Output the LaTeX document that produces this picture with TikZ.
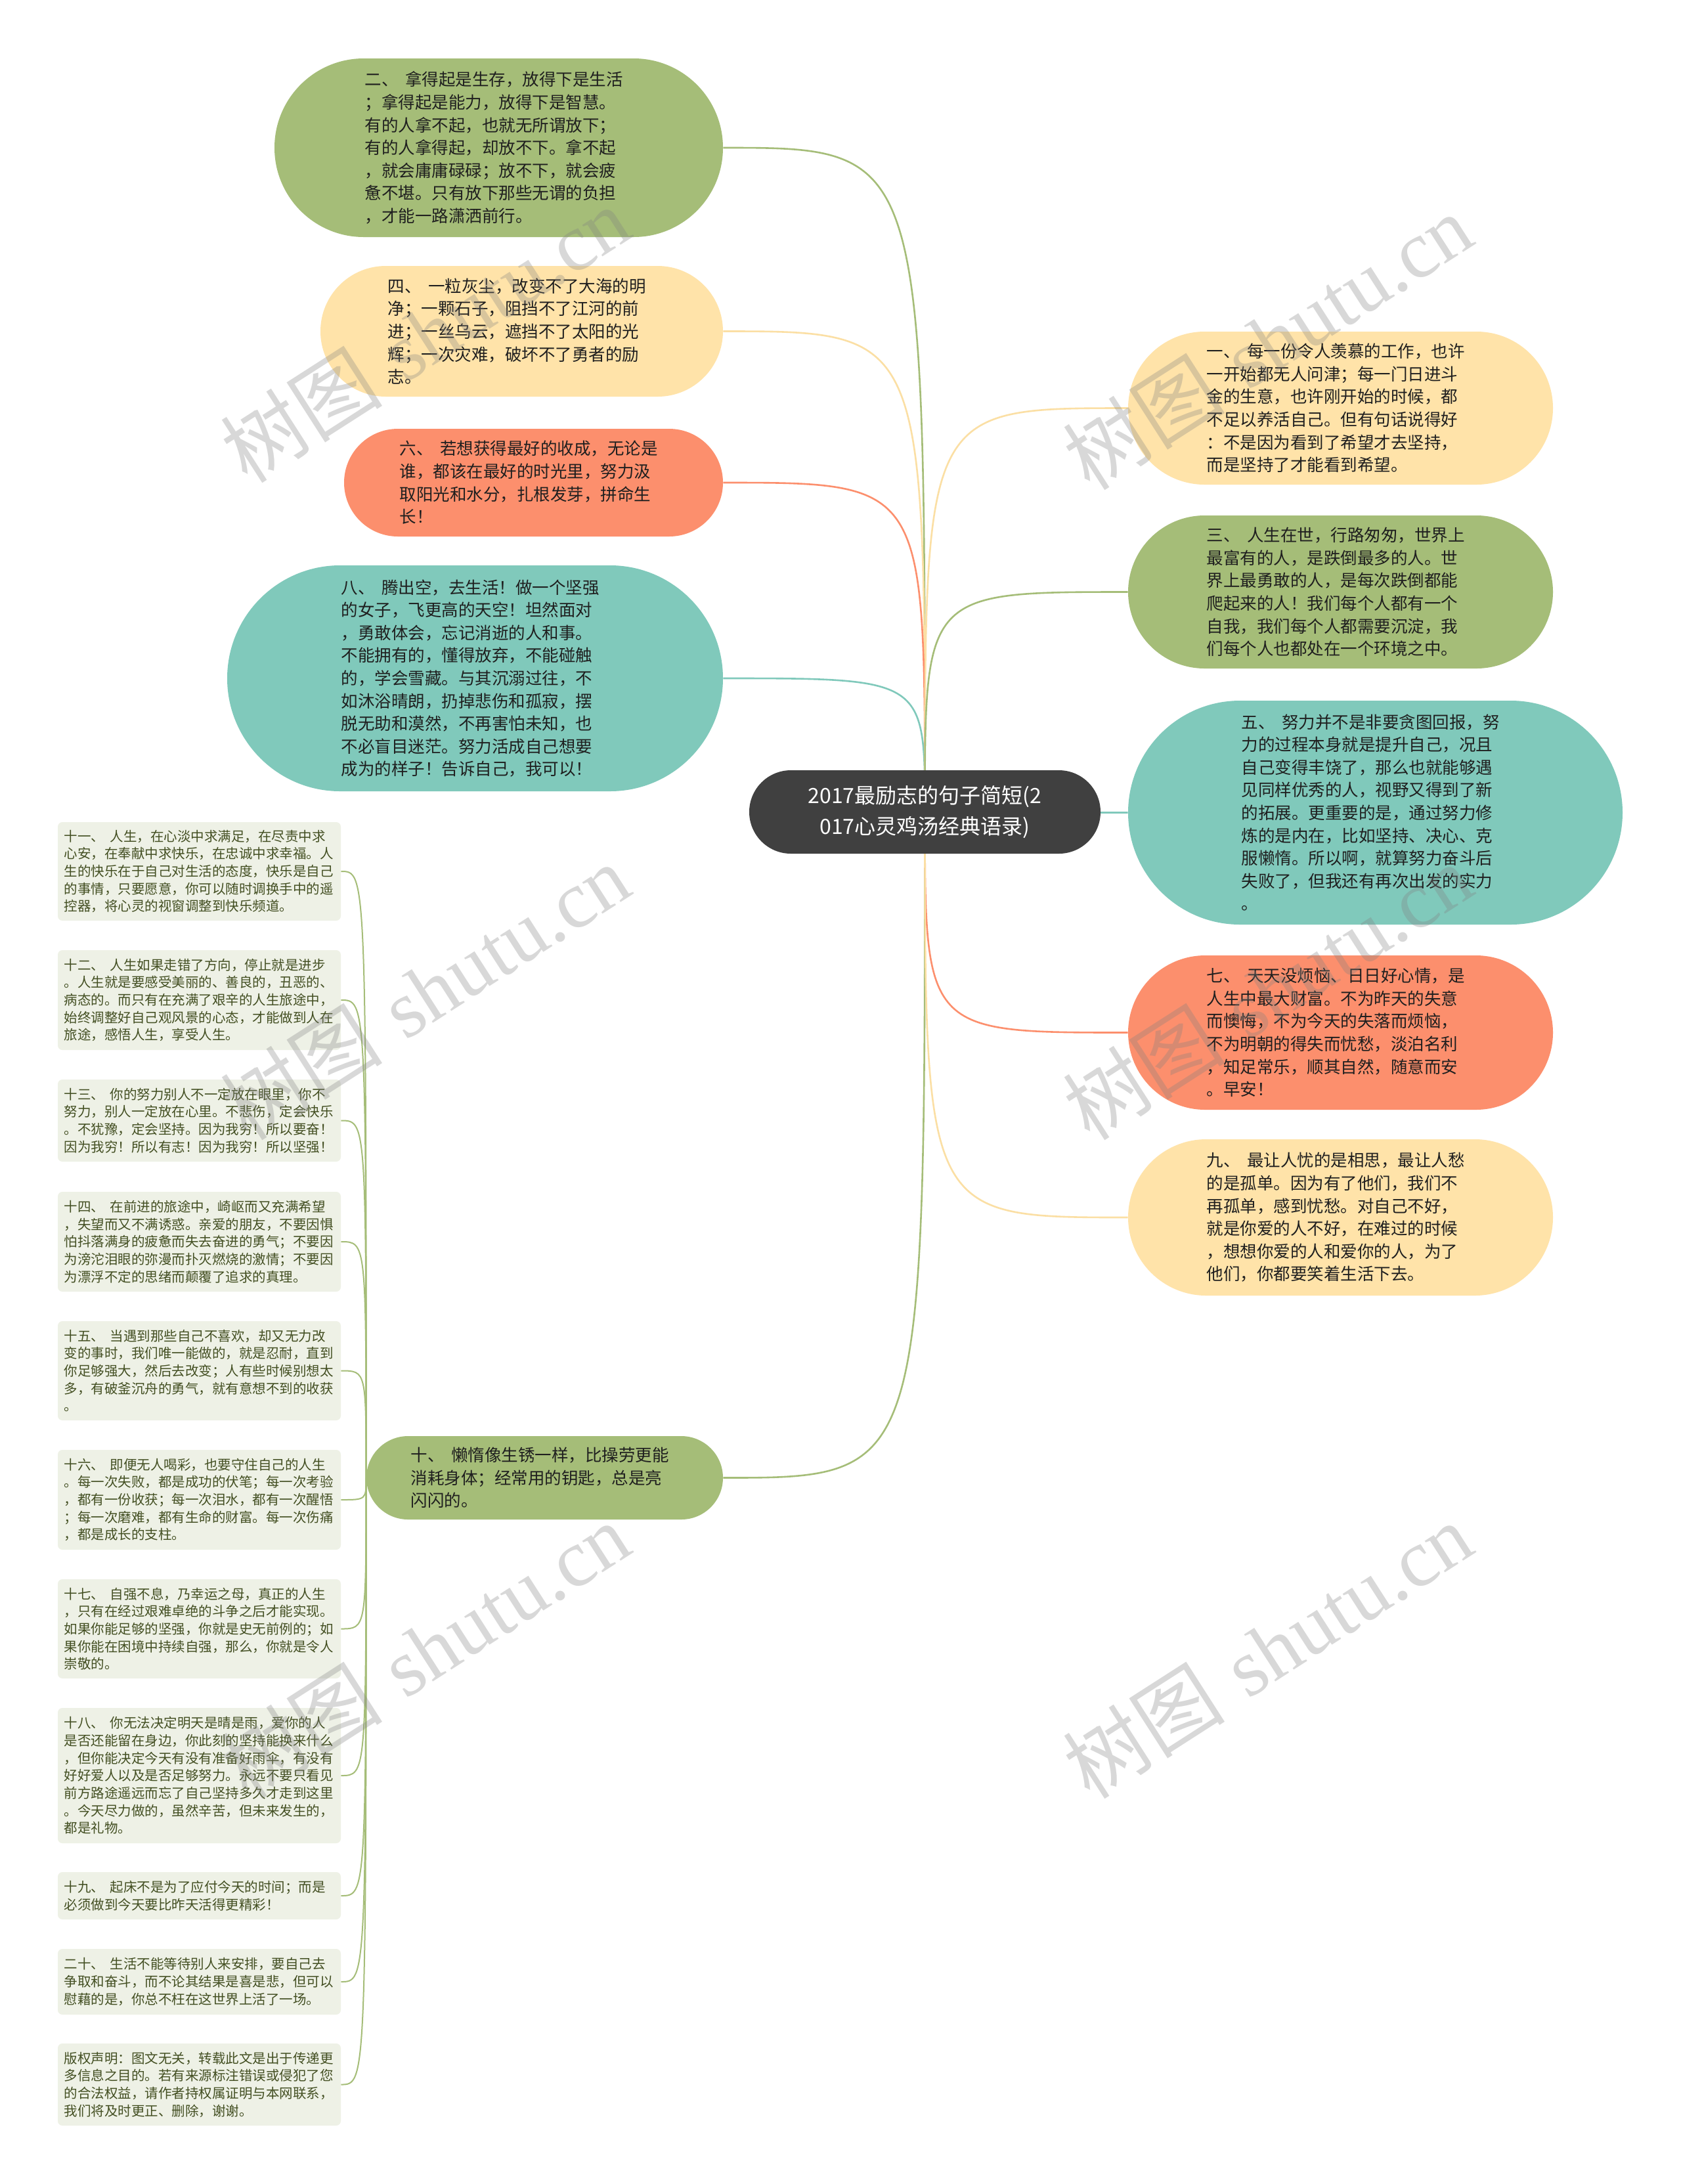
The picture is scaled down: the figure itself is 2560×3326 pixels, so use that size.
\documentclass[tikz,border=0pt]{standalone}
\usepackage{fontspec}
\setmainfont{Noto Sans CJK SC}
\newfontfamily\wmfont{Liberation Serif}
\usetikzlibrary{shapes.misc}
\pgfdeclarelayer{bg}
\pgfsetlayers{bg,main}
\definecolor{cgreen}{HTML}{A5BD78}
\definecolor{cyellow}{HTML}{FFE3A9}
\definecolor{corange}{HTML}{FC8F6D}
\definecolor{cteal}{HTML}{80C9BB}
\definecolor{croot}{HTML}{404040}
\definecolor{boxfill}{HTML}{EEF1E6}
\definecolor{boxtext}{HTML}{434F22}
\definecolor{txtdark}{HTML}{1F1F1F}
\definecolor{lyellow}{HTML}{FBDFA4}
\newcommand\dgap{\hspace{0.42em}}
\begin{document}
\begin{tikzpicture}[x=0.5pt,y=-0.5pt,
  pill/.style={shape=rounded rectangle, inner xsep=0pt, inner ysep=0pt,
    text width=204pt, align=left, text=txtdark,
    font=\fontsize{12.75pt}{17.3pt}\selectfont},
  rootnode/.style={shape=rounded rectangle, inner xsep=0pt, inner ysep=0pt,
    fill=croot, text=white, align=center,
    font=\fontsize{16pt}{23.5pt}\selectfont},
  leafbox/.style={rectangle, rounded corners=3.5pt, fill=boxfill, text=boxtext,
    inner xsep=4.75pt, inner ysep=0pt, text width=206pt, align=left,
    font=\fontsize{10.25pt}{13.35pt}\selectfont},
  link/.style={line width=1.3pt},
  leaflink/.style={line width=1pt, draw=cgreen},
  wm/.style={text=black!50, text opacity=0.3, inner sep=0pt,
    font=\wmfont\fontsize{62pt}{62pt}\selectfont}
]
\useasboundingbox (0,0) rectangle (2560,3326);

% root
\node[rootnode, minimum width=267.5pt, minimum height=63.5pt] (root) at (1408.5,1236.5)
  {2017最励志的句子简短(2\\017心灵鸡汤经典语录)};

% left main nodes
\node[pill, fill=cgreen, minimum width=341.5pt, minimum height=136pt] (n2) at (759.5,225)
  {二、\dgap 拿得起是生存，放得下是生活\\；拿得起是能力，放得下是智慧。\\有的人拿不起，也就无所谓放下；\\有的人拿得起，却放不下。拿不起\\，就会庸庸碌碌；放不下，就会疲\\惫不堪。只有放下那些无谓的负担\\，才能一路潇洒前行。};
\node[pill, fill=cyellow, minimum width=306.5pt, minimum height=99.5pt] (n4) at (794.5,504.5)
  {四、\dgap 一粒灰尘，改变不了大海的明\\净；一颗石子，阻挡不了江河的前\\进；一丝乌云，遮挡不了太阳的光\\辉；一次灾难，破坏不了勇者的励\\志。};
\node[pill, fill=corange, minimum width=288.5pt, minimum height=82pt] (n6) at (812.5,735)
  {六、\dgap 若想获得最好的收成，无论是\\谁，都该在最好的时光里，努力汲\\取阳光和水分，扎根发芽，拼命生\\长！};
\node[pill, fill=cteal, minimum width=377.5pt, minimum height=172pt] (n8) at (723.5,1033)
  {八、\dgap 腾出空，去生活！做一个坚强\\的女子，飞更高的天空！坦然面对\\，勇敢体会，忘记消逝的人和事。\\不能拥有的，懂得放弃，不能碰触\\的，学会雪藏。与其沉溺过往，不\\如沐浴晴朗，扔掉悲伤和孤寂，摆\\脱无助和漠然，不再害怕未知，也\\不必盲目迷茫。努力活成自己想要\\成为的样子！告诉自己，我可以！};
\node[pill, fill=cgreen, minimum width=271.5pt, minimum height=63.5pt] (n10) at (829.5,2250.5)
  {十、\dgap 懒惰像生锈一样，比操劳更能\\消耗身体；经常用的钥匙，总是亮\\闪闪的。};

% right main nodes
\node[pill, fill=cyellow, minimum width=323.5pt, minimum height=116.5pt] (n1) at (2041.5,621.5)
  {一、\dgap 每一份令人羡慕的工作，也许\\一开始都无人问津；每一门日进斗\\金的生意，也许刚开始的时候，都\\不足以养活自己。但有句话说得好\\：不是因为看到了希望才去坚持，\\而是坚持了才能看到希望。};
\node[pill, fill=cgreen, minimum width=323.5pt, minimum height=116.5pt] (n3) at (2041.5,901.5)
  {三、\dgap 人生在世，行路匆匆，世界上\\最富有的人，是跌倒最多的人。世\\界上最勇敢的人，是每次跌倒都能\\爬起来的人！我们每个人都有一个\\自我，我们每个人都需要沉淀，我\\们每个人也都处在一个环境之中。};
\node[pill, fill=cteal, minimum width=376.5pt, minimum height=170.5pt] (n5) at (2094.5,1237.5)
  {五、\dgap 努力并不是非要贪图回报，努\\力的过程本身就是提升自己，况且\\自己变得丰饶了，那么也就能够遇\\见同样优秀的人，视野又得到了新\\的拓展。更重要的是，通过努力修\\炼的是内在，比如坚持、决心、克\\服懒惰。所以啊，就算努力奋斗后\\失败了，但我还有再次出发的实力\\。};
\node[pill, fill=corange, minimum width=323.5pt, minimum height=117.5pt] (n7) at (2041.5,1572.5)
  {七、\dgap 天天没烦恼、日日好心情，是\\人生中最大财富。不为昨天的失意\\而懊悔，不为今天的失落而烦恼，\\不为明朝的得失而忧愁，淡泊名利\\，知足常乐，顺其自然，随意而安\\。早安！};
\node[pill, fill=cyellow, minimum width=323.5pt, minimum height=119pt] (n9) at (2041.5,1854)
  {九、\dgap 最让人忧的是相思，最让人愁\\的是孤单。因为有了他们，我们不\\再孤单，感到忧愁。对自己不好，\\就是你爱的人不好，在难过的时候\\，想想你爱的人和爱你的人，为了\\他们，你都要笑着生活下去。};

% left column boxes
\node[leafbox, minimum height=75pt] (b11) at (303.5,1327)
  {十一、\dgap 人生，在心淡中求满足，在尽责中求\\心安，在奉献中求快乐，在忠诚中求幸福。人\\生的快乐在于自己对生活的态度，快乐是自己\\的事情，只要愿意，你可以随时调换手中的遥\\控器，将心灵的视窗调整到快乐频道。};
\node[leafbox, minimum height=76pt] (b12) at (303.5,1523)
  {十二、\dgap 人生如果走错了方向，停止就是进步\\。人生就是要感受美丽的、善良的，丑恶的、\\病态的。而只有在充满了艰辛的人生旅途中，\\始终调整好自己观风景的心态，才能做到人在\\旅途，感悟人生，享受人生。};
\node[leafbox, minimum height=62.5pt] (b13) at (303.5,1706.5)
  {十三、\dgap 你的努力别人不一定放在眼里，你不\\努力，别人一定放在心里。不悲伤，定会快乐\\。不犹豫，定会坚持。因为我穷！所以要奋！\\因为我穷！所以有志！因为我穷！所以坚强！};
\node[leafbox, minimum height=76pt] (b14) at (303.5,1891)
  {十四、\dgap 在前进的旅途中，崎岖而又充满希望\\，失望而又不满诱惑。亲爱的朋友，不要因惧\\怕抖落满身的疲惫而失去奋进的勇气；不要因\\为滂沱泪眼的弥漫而扑灭燃烧的激情；不要因\\为漂浮不定的思绪而颠覆了追求的真理。};
\node[leafbox, minimum height=75.5pt] (b15) at (303.5,2087.5)
  {十五、\dgap 当遇到那些自己不喜欢，却又无力改\\变的事时，我们唯一能做的，就是忍耐，直到\\你足够强大，然后去改变；人有些时候别想太\\多，有破釜沉舟的勇气，就有意想不到的收获\\。};
\node[leafbox, minimum height=76pt] (b16) at (303.5,2284)
  {十六、\dgap 即便无人喝彩，也要守住自己的人生\\。每一次失败，都是成功的伏笔；每一次考验\\，都有一份收获；每一次泪水，都有一次醒悟\\；每一次磨难，都有生命的财富。每一次伤痛\\，都是成长的支柱。};
\node[leafbox, minimum height=75.5pt] (b17) at (303.5,2480.5)
  {十七、\dgap 自强不息，乃幸运之母，真正的人生\\，只有在经过艰难卓绝的斗争之后才能实现。\\如果你能足够的坚强，你就是史无前例的；如\\果你能在困境中持续自强，那么，你就是令人\\崇敬的。};
\node[leafbox, minimum height=103pt] (b18) at (303.5,2704)
  {十八、\dgap 你无法决定明天是晴是雨，爱你的人\\是否还能留在身边，你此刻的坚持能换来什么\\，但你能决定今天有没有准备好雨伞，有没有\\好好爱人以及是否足够努力。永远不要只看见\\前方路途遥远而忘了自己坚持多久才走到这里\\。今天尽力做的，虽然辛苦，但未来发生的，\\都是礼物。};
\node[leafbox, minimum height=36pt] (b19) at (303.5,2887)
  {十九、\dgap 起床不是为了应付今天的时间；而是\\必须做到今天要比昨天活得更精彩！};
\node[leafbox, minimum height=50pt] (b20) at (303.5,3018)
  {二十、\dgap 生活不能等待别人来安排，要自己去\\争取和奋斗，而不论其结果是喜是悲，但可以\\慰藉的是，你总不枉在这世界上活了一场。};
\node[leafbox, minimum height=62.5pt] (bcr) at (303.5,3174.5)
  {版权声明：图文无关，转载此文是出于传递更\\多信息之目的。若有来源标注错误或侵犯了您\\的合法权益，请作者持权属证明与本网联系，\\我们将及时更正、删除，谢谢。};

% background and connectors
\begin{pgfonlayer}{bg}
\fill[white] (0,0) rectangle (2560,3326);
\draw[link, draw=cgreen] (root.center) .. controls (root.center |- n2.east) .. (n2.east);
\draw[link, draw=lyellow] (root.center) .. controls (root.center |- n4.east) .. (n4.east);
\draw[link, draw=corange] (root.center) .. controls (root.center |- n6.east) .. (n6.east);
\draw[link, draw=cteal] (root.center) .. controls (root.center |- n8.east) .. (n8.east);
\draw[link, draw=cgreen] (root.center) .. controls (root.center |- n10.east) .. (n10.east);
\draw[link, draw=lyellow] (root.center) .. controls (root.center |- n1.west) .. (n1.west);
\draw[link, draw=cgreen] (root.center) .. controls (root.center |- n3.west) .. (n3.west);
\draw[link, draw=cteal] (root.center) .. controls (root.center |- n5.west) .. (n5.west);
\draw[link, draw=corange] (root.center) .. controls (root.center |- n7.west) .. (n7.west);
\draw[link, draw=lyellow] (root.center) .. controls (root.center |- n9.west) .. (n9.west);
\foreach \b in {b11,b12,b13,b14,b15,b16,b17,b18,b19,b20,bcr}
  \draw[leaflink] (n10.west) .. controls (n10.west |- \b.east) .. (\b.east);
\end{pgfonlayer}

% watermarks
\node[wm, rotate=32.7] (w1) at (647,509) {{\normalfont 树图}\hspace{0.3em}shutu.cn};
\node[wm, rotate=32.7] (w2) at (1930,520) {{\normalfont 树图}\hspace{0.3em}shutu.cn};
\node[wm, rotate=32.7] (w3) at (647,1510) {{\normalfont 树图}\hspace{0.3em}shutu.cn};
\node[wm, rotate=32.7] (w4) at (1930,1510) {{\normalfont 树图}\hspace{0.3em}shutu.cn};
\node[wm, rotate=32.7] (w5) at (647,2513) {{\normalfont 树图}\hspace{0.3em}shutu.cn};
\node[wm, rotate=32.7] (w6) at (1930,2513) {{\normalfont 树图}\hspace{0.3em}shutu.cn};
\end{tikzpicture}
\end{document}
